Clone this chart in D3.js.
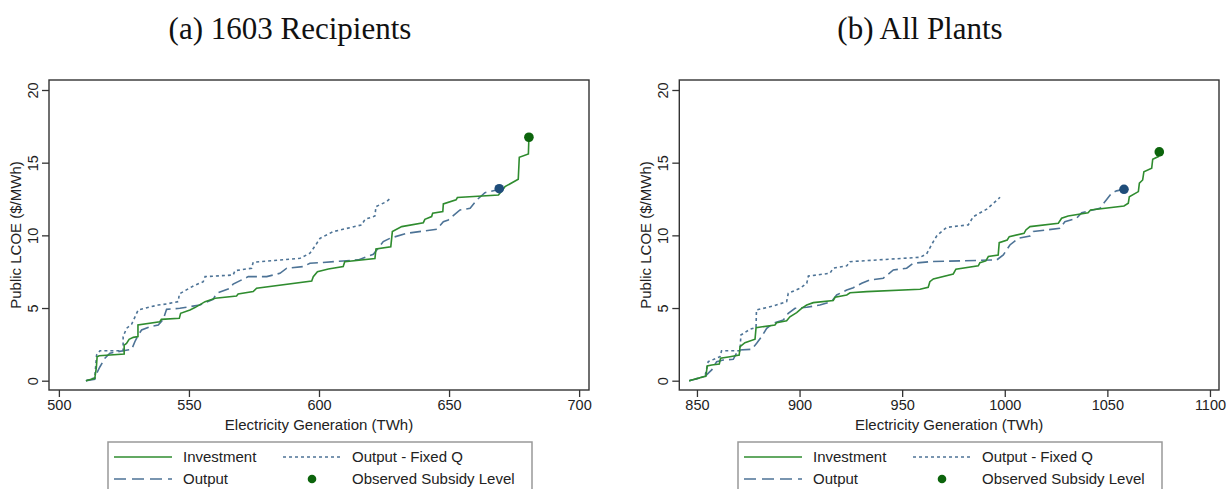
<!DOCTYPE html>
<html>
<head>
<meta charset="utf-8">
<script src="https://cdn.jsdelivr.net/npm/d3@7"></script>
<style>
  body { margin: 0; background: #fff; }
  text { font-family: "Liberation Sans", Arial, sans-serif; fill: #222; }
  .title { font-family: "Liberation Serif", "DejaVu Serif", serif; font-size: 31px; fill: #111; }
</style>
</head>
<body>
<svg id="chart" width="1228" height="489"></svg>
<script>
// Panel titles and tick labels
var panelTitles = ["(a) 1603 Recipients", "(b) All Plants"];
var yTicks = [0, 5, 10, 15, 20];
var xTicksA = [500, 550, 600, 650, 700];
var xTicksB = [850, 900, 950, 1000, 1050, 1100];
var legendLabels = ["Investment", "Output - Fixed Q", "Output", "Observed Subsidy Level"];

// (a) 1603 Recipients: [TWh, $/MWh]
var investA = [[510.4,0],[513.8,0.16],[514.4,0.9],[514.7,1.65],[515.5,1.72],[525.1,1.84],[525.1,2.45],[526.0,2.57],
  [527.0,2.85],[528.6,2.98],[530.4,3.03],[530.4,3.83],[538.8,4.06],[539.4,4.22],[546.3,4.29],[546.8,4.64],
  [550.4,4.87],[552.3,5.03],[556.2,5.44],[560.1,5.67],[568.3,5.83],[568.9,5.97],[574.7,6.13],[576.0,6.36],
  [597.2,6.86],[597.8,7.16],[599.4,7.5],[603.6,7.68],[609.3,7.85],[609.9,8.19],[621.5,8.4],[621.9,9.06],
  [627.6,9.22],[628.2,10.26],[631.8,10.6],[640.1,10.87],[640.7,11.1],[643.3,11.29],[643.7,11.52],[647.6,11.63],
  [647.8,12.16],[652.7,12.44],[653.2,12.6],[669.0,12.78],[671.5,13.35],[676.6,13.86],[677.0,15.37],[680.5,15.6],
  [680.7,16.75]];
var outputA = [[510.4,0],[513.8,0.1],[514.5,0.5],[515.8,0.96],[517.7,1.54],[519.6,1.89],[524.7,2.06],[528.0,2.16],
  [529.2,2.68],[530.5,3.14],[531.8,3.49],[535.0,3.72],[538.2,3.83],[540.1,4.22],[541.4,4.91],[546.5,4.98],
  [554.2,5.21],[559.3,5.6],[560.6,6.01],[565.8,6.36],[567.0,6.65],[572.8,7.16],[579.9,7.16],[585.0,7.39],
  [587.6,7.74],[594.0,7.85],[596.5,8.08],[600.4,8.12],[609.3,8.24],[615.1,8.31],[620.9,8.7],[624.7,9.57],
  [627.3,9.8],[633.7,10.14],[645.3,10.42],[647.8,10.94],[649.7,11.06],[654.2,11.75],[658.1,11.86],[660.7,12.44],
  [663.8,12.94],[668.3,13.12],[669.3,13.21]];
var fixedQA = [[510.4,0],[513.8,0.2],[514.5,1.77],[515.8,2.06],[524.7,2.06],[524.7,3.03],[526.0,3.6],[528.0,3.9],
  [530.5,4.87],[538.2,5.21],[541.4,5.28],[545.9,5.44],[546.3,5.97],[551.7,6.52],[555.5,6.81],[556.2,7.16],
  [567.0,7.27],[567.7,7.57],[574.1,7.74],[574.7,8.15],[592.7,8.42],[596.5,8.77],[598.5,9.27],[600.4,9.8],
  [605.5,10.26],[616.4,10.72],[617.7,11.1],[621.5,11.33],[621.9,11.98],[626.0,12.32],[627.9,12.62]];
var observedA = [[669.3,13.21,"output"],[680.7,16.75,"invest"]];

// (b) All Plants
var investB = [[846.2,0],[854.4,0.32],[855.0,1.01],[857.2,1.08],[860.9,1.15],[861.5,1.54],[866.1,1.65],[870.6,1.77],
  [871.0,2.34],[873.4,2.62],[878.3,2.85],[878.8,3.65],[888.0,3.83],[888.8,3.99],[893.7,4.13],[895.3,4.4],
  [898.6,4.68],[901.0,4.98],[903.5,5.21],[906.7,5.37],[916.4,5.51],[917.3,5.74],[923.0,5.9],[924.6,6.05],
  [932.7,6.13],[958.7,6.29],[962.7,6.43],[963.5,6.81],[965.2,7.0],[974.9,7.34],[976.2,7.67],[987.1,7.9],
  [987.9,8.12],[990.8,8.24],[992.0,8.54],[996.8,8.65],[997.3,9.5],[1001.2,9.68],[1002.2,9.91],[1009.4,10.14],
  [1010.3,10.37],[1012.3,10.6],[1026.1,10.83],[1027.7,11.18],[1030.9,11.33],[1040.6,11.56],[1041.8,11.75],
  [1058.1,12.02],[1060.2,12.21],[1060.7,12.66],[1065.1,13.01],[1065.6,13.59],[1067.2,13.81],[1067.8,14.38],
  [1071.6,14.62],[1072.1,15.24],[1074.8,15.42],[1075.3,15.74]];
var outputB = [[846.2,0],[853.9,0.28],[856.3,0.62],[857.2,0.74],[859.6,1.31],[862.8,1.42],[867.7,1.47],[870.1,2.11],
  [876.7,2.16],[879.1,2.57],[881.5,3.03],[884.0,3.6],[887.2,3.95],[892.1,4.18],[894.5,4.64],[897.8,4.98],
  [903.5,5.05],[909.9,5.21],[915.6,5.44],[918.1,5.9],[923.0,6.24],[926.2,6.4],[930.3,6.7],[934.3,6.93],
  [940.8,7.05],[945.7,7.62],[952.2,7.74],[955.4,8.08],[963.5,8.19],[996.1,8.31],[999.3,8.65],[1002.5,9.34],
  [1006.6,9.8],[1012.3,9.96],[1013.9,10.26],[1026.9,10.49],[1029.3,10.94],[1035.0,11.18],[1037.5,11.56],
  [1046.4,11.86],[1048.8,12.32],[1052.1,12.9],[1054.5,13.06],[1058.1,13.17]];
var fixedQB = [[846.2,0],[853.9,0.3],[855.5,1.31],[861.2,1.65],[862.0,2.06],[871.0,2.06],[871.4,3.14],[875.8,3.54],
  [878.8,3.67],[879.0,4.87],[887.2,5.14],[893.7,5.44],[894.5,6.01],[900.2,6.36],[903.5,6.7],[904.3,7.2],
  [914.8,7.39],[916.4,7.74],[923.0,7.9],[924.6,8.19],[958.7,8.49],[961.9,8.72],[964.5,9.4],[967.0,10.0],
  [971.7,10.55],[982.2,10.72],[984.7,11.29],[991.2,11.8],[997.7,12.62]];
var observedB = [[1058.1,13.17,"output"],[1075.3,15.74,"invest"]];

var svg = d3.select("#chart");

var styles = {
    invest: { color: "#2f8c2f", dash: null },
    output: { color: "#4d7396", dash: "11,5" },
    fixedQ: { color: "#4d7396", dash: "3,3" }
};
var dotColors = { invest: "#0c640c", output: "#1f4d7a" };

function drawPanel(opt) {
    var x = d3.scaleLinear().domain(opt.xDomain).range([opt.left, opt.right]),
        y = d3.scaleLinear().domain([0, 20]).range([380.7, 90]);
    var top = 80, bottom = 390;
    var g = svg.append("g");

    g.append("text").attr("class", "title")
     .attr("x", opt.titleX).attr("y", 39)
     .attr("text-anchor", "middle").text(opt.title);

    // x axis
    var xa = g.append("g").attr("transform", "translate(0," + bottom + ")")
        .call(d3.axisBottom(x).tickValues(opt.xTicks).tickFormat(d3.format("d")).tickSize(7).tickPadding(3));
    xa.select(".domain").remove();
    xa.selectAll("line").attr("stroke", "#333").attr("stroke-width", 1.3);
    xa.selectAll("text").attr("font-size", "14.5px").attr("fill", "#222")
      .style("font-family", "'Liberation Sans', Arial, sans-serif");

    // y axis, labels turned
    var ya = g.append("g").attr("transform", "translate(" + opt.left + ",0)")
        .call(d3.axisLeft(y).tickValues(yTicks).tickSize(7));
    ya.select(".domain").remove();
    ya.selectAll("line").attr("stroke", "#333").attr("stroke-width", 1.3);
    ya.selectAll("text").attr("font-size", "14.5px").attr("fill", "#222")
      .attr("x", null).attr("dy", null)
      .attr("text-anchor", "middle")
      .attr("transform", "translate(-11,0) rotate(-90)")
      .style("font-family", "'Liberation Sans', Arial, sans-serif");

    g.append("rect").attr("x", opt.left).attr("y", top)
     .attr("width", opt.right - opt.left).attr("height", bottom - top)
     .attr("fill", "none").attr("stroke", "#333").attr("stroke-width", 1.4);

    g.append("text").attr("x", (opt.left + opt.right) / 2).attr("y", 430)
     .attr("text-anchor", "middle").attr("font-size", "15px")
     .text("Electricity Generation (TWh)");
    g.append("text")
     .attr("transform", "translate(" + (opt.left - 28) + "," + (top + bottom) / 2 + ") rotate(-90)")
     .attr("text-anchor", "middle").attr("font-size", "15px")
     .text("Public LCOE ($/MWh)");

    var line = d3.line()
        .x(function(d) { return x(d[0]); })
        .y(function(d) { return y(d[1]); });

    var series = [
        { key: "fixedQ", data: opt.fixedQ },
        { key: "output", data: opt.output },
        { key: "invest", data: opt.invest }
    ];
    g.selectAll(".series").data(series).enter().append("path")
     .attr("class", "series")
     .attr("d", function(d) { return line(d.data); })
     .attr("fill", "none")
     .attr("stroke", function(d) { return styles[d.key].color; })
     .attr("stroke-width", 1.6)
     .attr("stroke-dasharray", function(d) { return styles[d.key].dash; });

    g.selectAll(".obs").data(opt.observed).enter().append("circle")
     .attr("class", "obs")
     .attr("cx", function(d) { return x(d[0]); })
     .attr("cy", function(d) { return y(d[1]); })
     .attr("r", 4.8)
     .attr("fill", function(d) { return dotColors[d[2]]; });

    // legend
    var lg = g.append("g").attr("transform", "translate(" + opt.legendX + ",442)");
    lg.append("rect").attr("width", 424).attr("height", 62)
      .attr("fill", "#fff").attr("stroke", "#999").attr("stroke-width", 1.5);
    var items = [
        { key: "invest", label: legendLabels[0], col: 0, row: 0 },
        { key: "fixedQ", label: legendLabels[1], col: 1, row: 0 },
        { key: "output", label: legendLabels[2], col: 0, row: 1 },
        { key: "dot", label: legendLabels[3], col: 1, row: 1 }
    ];
    var it = lg.selectAll(".item").data(items).enter().append("g")
        .attr("transform", function(d) { return "translate(" + (6 + d.col * 169) + "," + (15 + d.row * 22) + ")"; });
    it.filter(function(d) { return d.key !== "dot"; }).append("line")
      .attr("x1", 0).attr("x2", 58).attr("y1", 0).attr("y2", 0)
      .attr("stroke", function(d) { return styles[d.key].color; })
      .attr("stroke-width", 1.6)
      .attr("stroke-dasharray", function(d) { return d.key === "output" ? "12,6" : styles[d.key].dash; });
    it.filter(function(d) { return d.key === "dot"; }).append("circle")
      .attr("cx", 29).attr("cy", 0).attr("r", 4.3).attr("fill", dotColors.invest);
    it.append("text").attr("x", 69).attr("y", 5).attr("font-size", "15px")
      .text(function(d) { return d.label; });
}

drawPanel({ title: panelTitles[0], titleX: 290, xDomain: [496.2, 703.8], left: 49, right: 589,
            xTicks: xTicksA, invest: investA, output: outputA, fixedQ: fixedQA, observed: observedA, legendX: 108 });
drawPanel({ title: panelTitles[1], titleX: 920, xDomain: [841.4, 1104.4], left: 679.3, right: 1219,
            xTicks: xTicksB, invest: investB, output: outputB, fixedQ: fixedQB, observed: observedB, legendX: 738 });
</script>
</body>
</html>
